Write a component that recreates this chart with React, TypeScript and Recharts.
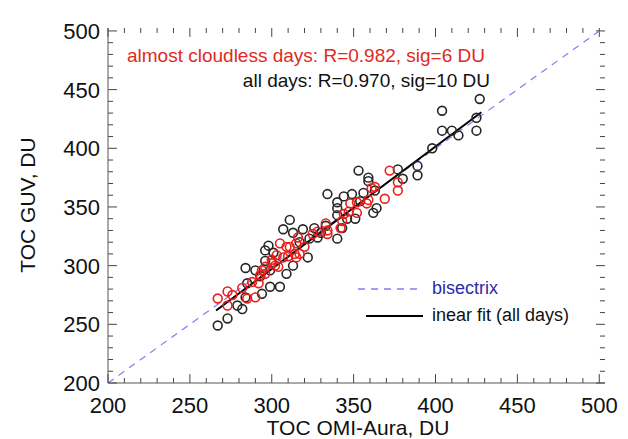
import { ScatterChart, Scatter, XAxis, YAxis, ReferenceLine } from 'recharts';

// all days (black circles): OMI-Aura vs GUV total ozone, DU
const allDaysOmi = [267, 273, 279, 282, 284, 284, 290, 285, 294, 299, 305, 293, 296, 299, 309,
  311, 307, 313, 319, 298, 296, 301, 322, 323, 328, 333, 317, 313, 326, 330,
  334, 340, 344, 349, 356, 359, 340, 340, 346, 351, 343, 340, 364, 362, 354,
  353, 359, 377, 380, 389, 389, 363, 398, 404, 404, 410, 414, 425, 425, 427];
const allDaysGuv = [249, 255, 266, 263, 273, 298, 296, 285, 276, 282, 282, 291, 304, 296, 293,
  339, 331, 328, 331, 317, 313, 311, 307, 323, 324, 334, 320, 300, 332, 328,
  361, 354, 359, 361, 362, 372, 349, 343, 340, 340, 332, 323, 349, 345, 355,
  381, 375, 382, 374, 385, 377, 364, 400, 432, 415, 415, 411, 415, 426, 442];

// almost cloudless days (red circles)
const clearOmi = [267, 273, 273, 276, 282, 288, 292, 290, 285, 293, 296, 300, 303, 307, 304,
  305, 311, 315, 317, 302, 294, 300, 310, 314, 316, 325, 328, 334, 320, 315,
  333, 334, 342, 343, 344, 347, 348, 352, 352, 358, 359, 361, 363, 369, 372,
  377, 377, 309, 296];
const clearGuv = [272, 278, 266, 275, 281, 286, 285, 273, 272, 292, 299, 305, 309, 307, 299,
  319, 316, 319, 310, 300, 296, 302, 308, 310, 324, 327, 329, 330, 316, 307,
  336, 327, 332, 338, 344, 346, 353, 354, 345, 353, 356, 366, 367, 357, 381,
  371, 364, 316, 293];

const majorTicks = [200, 250, 300, 350, 400, 450, 500];
const allTicks = Array.from({ length: 31 }, (_, i) => 200 + i * 10);

// linear fit (all days)
const fitSlope = 1.043;
const fitIntercept = -15.7;
const fitRange = [266, 428];

const allDays = allDaysOmi.map((x, i) => ({ x, y: allDaysGuv[i] }));
const clearDays = clearOmi.map((x, i) => ({ x, y: clearGuv[i] }));

const X_MIN = 200, X_MAX = 503.5, Y_MIN = 200, Y_MAX = 502.5;
// tick lengths in data units (about 9px / 5px on screen)
const X_MAJ = 7.6, X_MIN_LEN = 4.2, Y_MAJ = 5.5, Y_MIN_LEN = 3.1;

const FONT = '"Liberation Sans", Arial, Helvetica, sans-serif';
const AXIS = '#555';
const TICK = '#444';
const isMajor = (v: number) => majorTicks.includes(v);

function BottomLabel({ x, y, payload }: any) {
  const v = payload.value;
  if (!isMajor(v)) return <g />;
  return <text x={x} y={y + 30} textAnchor="middle" fontSize={22} fill="#111" fontFamily={FONT}>{v}</text>;
}

function LeftLabel({ x, y, payload }: any) {
  const v = payload.value;
  if (!isMajor(v)) return <g />;
  return <text x={x - 8} y={y + 8} textAnchor="end" fontSize={22} fill="#111" fontFamily={FONT}>{v}</text>;
}

const ring = (color: string) => (p: any) => (
  <circle cx={p.cx} cy={p.cy} r={4.4} fill="none" stroke={color} strokeWidth={1.6} />
);

// inward tick marks on all four sides of the frame
const tickMarks = allTicks.flatMap((v) => {
  const lx = isMajor(v) ? X_MAJ : X_MIN_LEN;
  const ly = isMajor(v) ? Y_MAJ : Y_MIN_LEN;
  return [
    <ReferenceLine key={`b${v}`} segment={[{ x: v, y: Y_MIN }, { x: v, y: Y_MIN + lx }]} stroke={TICK} />,
    <ReferenceLine key={`t${v}`} segment={[{ x: v, y: Y_MAX }, { x: v, y: Y_MAX - lx }]} stroke={TICK} />,
    <ReferenceLine key={`l${v}`} segment={[{ x: X_MIN, y: v }, { x: X_MIN + ly, y: v }]} stroke={TICK} />,
    <ReferenceLine key={`r${v}`} segment={[{ x: X_MAX, y: v }, { x: X_MAX - ly, y: v }]} stroke={TICK} />,
  ];
});

export default function App() {
  return (
    <div style={{ position: 'absolute', left: 0, top: 0, width: 628, height: 439, background: '#fff', fontFamily: FONT }}>
      <ScatterChart width={628} height={439} margin={{ top: 28, right: 23, bottom: 0, left: 0 }}>
        <XAxis type="number" dataKey="x" domain={[X_MIN, X_MAX]} ticks={allTicks} interval={0}
          allowDataOverflow height={56} tickSize={0} tickMargin={0} tickLine={false}
          stroke={AXIS} tick={(p: any) => <BottomLabel {...p} />} />
        <XAxis xAxisId="top" orientation="top" type="number" dataKey="x" domain={[X_MIN, X_MAX]}
          allowDataOverflow height={0} tick={false} tickLine={false} stroke={AXIS} />
        <YAxis type="number" dataKey="y" domain={[Y_MIN, Y_MAX]} ticks={allTicks} interval={0}
          allowDataOverflow width={108} tickSize={0} tickMargin={0} tickLine={false}
          stroke={AXIS} tick={(p: any) => <LeftLabel {...p} />} />
        <YAxis yAxisId="right" orientation="right" type="number" dataKey="y" domain={[Y_MIN, Y_MAX]}
          allowDataOverflow width={0} tick={false} tickLine={false} stroke={AXIS} />
        {tickMarks}
        <Scatter data={allDays} shape={ring('#262626')} isAnimationActive={false} />
        <Scatter data={clearDays} shape={ring('#e8201c')} isAnimationActive={false} />
        <ReferenceLine segment={[{ x: 200, y: 200 }, { x: 500, y: 500 }]}
          stroke="#7f7ff0" strokeWidth={1.2} strokeDasharray="7 6" />
        <ReferenceLine
          segment={[
            { x: fitRange[0], y: fitSlope * fitRange[0] + fitIntercept },
            { x: fitRange[1], y: fitSlope * fitRange[1] + fitIntercept },
          ]}
          stroke="#000" strokeWidth={2} />
      </ScatterChart>

      <div style={{ position: 'absolute', right: 628 - 485, top: 45, fontSize: 19, color: '#e02a22', whiteSpace: 'nowrap' }}>
        almost cloudless days: R=0.982, sig=6 DU
      </div>
      <div style={{ position: 'absolute', right: 628 - 490, top: 70, fontSize: 19, color: '#111', whiteSpace: 'nowrap' }}>
        all days: R=0.970, sig=10 DU
      </div>

      <svg style={{ position: 'absolute', left: 0, top: 0 }} width={628} height={439}>
        <line x1={358} y1={289} x2={422} y2={289} stroke="#7f7ff0" strokeWidth={1.4} strokeDasharray="7 6" />
        <line x1={366} y1={316} x2={423} y2={316} stroke="#000" strokeWidth={2} />
      </svg>
      <div style={{ position: 'absolute', left: 432, top: 278, fontSize: 18, color: '#2a2aa8', whiteSpace: 'nowrap' }}>
        bisectrix
      </div>
      <div style={{ position: 'absolute', left: 432, top: 305, fontSize: 18, color: '#111', whiteSpace: 'nowrap' }}>
        inear fit (all days)
      </div>

      <div style={{ position: 'absolute', left: 28, top: 205, transform: 'translate(-50%, -50%) rotate(-90deg)', fontSize: 21, color: '#111', whiteSpace: 'nowrap' }}>
        TOC GUV, DU
      </div>
      <div style={{ position: 'absolute', left: 358, top: 428, transform: 'translate(-50%, -50%)', fontSize: 21, color: '#111', whiteSpace: 'nowrap' }}>
        TOC OMI-Aura, DU
      </div>
    </div>
  );
}
